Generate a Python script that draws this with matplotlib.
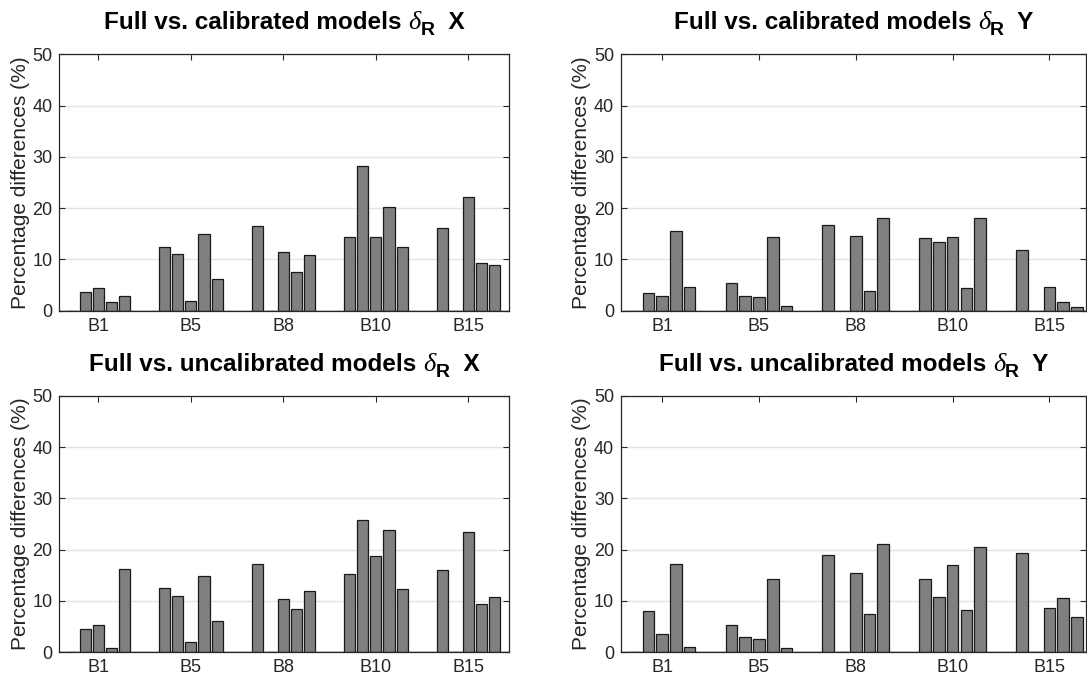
import matplotlib
matplotlib.use("Agg")
import matplotlib.pyplot as plt
import numpy as np

plt.rcParams["font.family"] = ["Liberation Sans", "DejaVu Sans"]

# ---- data (percentage differences), 5 bars per group ----
groups = ["B1", "B5", "B8", "B10", "B15"]

cal_x = [
    [0.0, 3.6, 4.4, 1.6, 2.9],
    [12.5, 11.0, 1.9, 14.9, 6.1],
    [16.6, 0.0, 11.4, 7.6, 10.9],
    [14.3, 28.3, 14.3, 20.2, 12.4],
    [16.1, 0.0, 22.2, 9.3, 9.0],
]
cal_y = [
    [0.0, 3.5, 2.8, 15.5, 4.6],
    [5.4, 2.9, 2.6, 14.3, 0.9],
    [16.8, 0.0, 14.6, 3.9, 18.0],
    [14.1, 13.4, 14.3, 4.4, 18.0],
    [11.8, 0.0, 4.6, 1.6, 0.7],
]
uncal_x = [
    [0.0, 4.5, 5.4, 0.9, 16.2],
    [12.5, 11.0, 2.0, 14.9, 6.1],
    [17.3, 0.0, 10.4, 8.4, 12.0],
    [15.3, 25.8, 18.8, 23.8, 12.4],
    [16.1, 0.0, 23.4, 9.5, 10.8],
]
uncal_y = [
    [0.0, 8.0, 3.6, 17.3, 1.1],
    [5.4, 2.9, 2.6, 14.3, 0.9],
    [19.0, 0.0, 15.4, 7.4, 21.1],
    [14.3, 10.7, 17.0, 8.3, 20.5],
    [19.3, 0.0, 8.6, 10.6, 6.8],
]

title_heads = ["Full vs. calibrated models", "Full vs. calibrated models",
               "Full vs. uncalibrated models", "Full vs. uncalibrated models"]
title_tails = ["X", "Y", "X", "Y"]
panels = [cal_x, cal_y, uncal_x, uncal_y]

# axes rectangles in figure fractions
rects = [
    [0.0546, 0.5438, 0.4137, 0.3765],
    [0.5713, 0.5438, 0.4280, 0.3765],
    [0.0546, 0.0422, 0.4137, 0.3765],
    [0.5713, 0.0422, 0.4280, 0.3765],
]
xlims = [(0.578, 5.44), (0.575, 5.38), (0.578, 5.44), (0.575, 5.38)]

W, H = 1087, 681
fig = plt.figure(figsize=(W / 100, H / 100), dpi=100)
renderer = fig.canvas.get_renderer()

step = 0.142
width = 0.12
x = np.arange(1, len(groups) + 1)


def draw_title(ax, head, tail, base_px=25):
    # title pieces: bold text, italic serif delta, bold subscript R, bold tail
    pieces = [
        (head + " ", dict(fontsize=17.5, fontweight="bold"), 0),
        ("\u03b4", dict(fontsize=19, family="Liberation Serif", style="italic"), 0),
        ("R", dict(fontsize=14, fontweight="bold"), -6),
        ("  " + tail, dict(fontsize=17.5, fontweight="bold"), 0),
    ]
    texts = []
    widths = []
    for s, kw, dy in pieces:
        t = fig.text(0, 0, s, va="baseline", ha="left", **kw)
        bb = t.get_window_extent(renderer)
        texts.append(t)
        widths.append(bb.width)
    bbox = ax.get_position()
    cx = (bbox.x0 + bbox.x1) / 2 * W
    top = bbox.y1 * H
    xpos = cx - sum(widths) / 2
    for t, w, (s, kw, dy) in zip(texts, widths, pieces):
        t.set_position((xpos / W, (top + base_px + dy) / H))
        xpos += w


for rect, data, head, tail, xl in zip(rects, panels, title_heads, title_tails, xlims):
    ax = fig.add_axes(rect)
    vals = np.array(data)
    for k in range(vals.shape[1]):
        ax.bar(x + (k - 2) * step, vals[:, k], width=width,
               color="#808080", edgecolor="#1a1a1a", linewidth=0.9, zorder=3)
    ax.axhline(0, color="#262626", lw=1.0, zorder=4)
    ax.set_xlim(*xl)
    ax.set_ylim(0, 50)
    ax.set_yticks([0, 10, 20, 30, 40, 50])
    ax.set_xticks(x)
    ax.set_xticklabels(groups)
    ax.yaxis.grid(True, color="#e3e3e3", lw=1.0, zorder=0)
    ax.set_axisbelow(True)
    ax.tick_params(direction="in", length=4, width=0.8, top=True, right=True,
                   labelsize=13, colors="#262626", pad=5)
    for s in ax.spines.values():
        s.set_color("#262626")
        s.set_linewidth(0.9)
    ax.set_ylabel("Percentage differences (%)", fontsize=15, color="#262626",
                  labelpad=2)
    draw_title(ax, head, tail)

fig.savefig("out.png", dpi=100)
